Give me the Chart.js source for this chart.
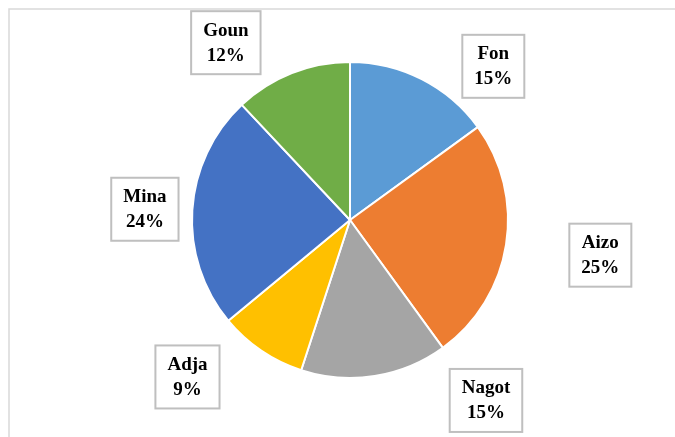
<!DOCTYPE html>
<html>
<head>
<meta charset="utf-8">
<script src="https://cdn.jsdelivr.net/npm/chart.js@4.4.1/dist/chart.umd.min.js"></script>
<style>
  html, body { margin: 0; padding: 0; background: #fff; }
  #wrap { position: relative; width: 675px; height: 437px; }
</style>
</head>
<body>
<div id="wrap"><canvas id="pieChart" width="675" height="437"></canvas></div>
<script>
// Data
const categories = ['Fon', 'Aizo', 'Nagot', 'Adja', 'Mina', 'Goun'];
const shares = [15, 25, 15, 9, 24, 12];
const sliceColors = ['#5B9BD5', '#ED7D31', '#A5A5A5', '#FFC000', '#4472C4', '#70AD47'];

// where each callout box sits: angle (deg, clockwise from top) and distance as a share of the radius
const calloutAngle = [43, 98, 143, 226, 273, 325];
const calloutDist = [1.33, 1.60, 1.43, 1.43, 1.30, 1.37];

// outer frame, as in the office chart area
const framePlugin = {
  id: 'frame',
  beforeDraw(chart) {
    const ctx = chart.ctx;
    ctx.save();
    ctx.strokeStyle = '#D9D9D9';
    ctx.lineWidth = 1.5;
    ctx.strokeRect(9, 9, 800, 600);
    ctx.restore();
  }
};

// boxed data labels: name + percent
const calloutPlugin = {
  id: 'callouts',
  afterDatasetsDraw(chart) {
    const ctx = chart.ctx;
    const arcs = chart.getDatasetMeta(0).data;
    const total = shares.reduce((a, b) => a + b, 0);
    ctx.save();
    ctx.font = 'bold 19px "Liberation Serif", "Times New Roman", serif';
    ctx.textAlign = 'center';
    ctx.textBaseline = 'middle';
    arcs.forEach((arc, i) => {
      const a = calloutAngle[i] * Math.PI / 180;
      const d = arc.outerRadius * calloutDist[i];
      const cx = arc.x + d * Math.sin(a);
      const cy = arc.y - d * Math.cos(a);
      const line1 = categories[i];
      const line2 = Math.round(shares[i] / total * 100) + '%';
      const w = Math.max(ctx.measureText(line1).width, ctx.measureText(line2).width) + 24;
      const h = 63;
      ctx.fillStyle = '#fff';
      ctx.fillRect(cx - w / 2, cy - h / 2, w, h);
      ctx.strokeStyle = '#BFBFBF';
      ctx.lineWidth = 2;
      ctx.strokeRect(cx - w / 2, cy - h / 2, w, h);
      ctx.fillStyle = '#000';
      ctx.fillText(line1, cx, cy - 12);
      ctx.fillText(line2, cx, cy + 13);
    });
    ctx.restore();
  }
};

new Chart(document.getElementById('pieChart'), {
  type: 'pie',
  data: {
    labels: categories,
    datasets: [{
      data: shares,
      backgroundColor: sliceColors,
      borderColor: '#FFFFFF',
      borderWidth: 2
    }]
  },
  options: {
    responsive: false,
    animation: false,
    layout: {
      padding: { top: 61, bottom: 58, left: 190, right: 165 }
    },
    plugins: {
      legend: { display: false },
      tooltip: { enabled: false }
    }
  },
  plugins: [framePlugin, calloutPlugin]
});
</script>
</body>
</html>
